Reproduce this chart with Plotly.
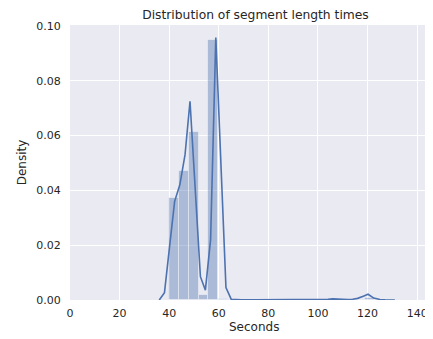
import plotly.graph_objects as go

# Histogram (density) bins
bin_centers = [41.975, 45.925, 49.875, 53.825, 57.775, 61.725, 120.975]
bin_density = [0.0373, 0.0470, 0.0612, 0.0019, 0.0948, 0.0005, 0.0006]
bin_width = 3.95

# KDE curve
kde_x = [36.0, 38.1, 40.1, 42.2, 44.3, 46.4, 48.4, 50.5, 52.6, 54.6, 56.7, 58.8,
         60.8, 62.9, 65.0, 67.1, 69.1, 75.0, 85.0, 95.0, 100.0, 104.0, 106.0,
         108.0, 110.0, 112.0, 114.0, 116.0, 118.3, 120.2, 122.5, 125.0, 127.0, 131.0]
kde_y = [0.0, 0.0027, 0.019, 0.036, 0.042, 0.053, 0.0725, 0.040, 0.0085, 0.0036,
         0.022, 0.0957, 0.050, 0.0045, 0.0003, 0.0001, 0.0001, 0.0001, 0.0001, 0.0002,
         0.0003, 0.0003, 0.0004, 0.0003, 0.0002, 0.0002, 0.0003, 0.0006, 0.0014, 0.0021,
         0.0007, 0.0002, 0.0001, 0.0]

x_ticks = [0, 20, 40, 60, 80, 100, 120, 140]
y_ticks = [0.00, 0.02, 0.04, 0.06, 0.08, 0.10]

blue = "#4C72B0"
txt = "#262626"
font = "DejaVu Sans"

fig = go.Figure()
fig.add_trace(go.Bar(
    x=bin_centers, y=bin_density, width=[bin_width] * len(bin_centers),
    marker=dict(color="rgba(76,114,176,0.4)", line=dict(color="rgba(255,255,255,0.4)", width=1)),
    hoverinfo="skip", showlegend=False,
))
fig.add_trace(go.Scatter(
    x=kde_x, y=kde_y, mode="lines", line=dict(color=blue, width=1.6),
    hoverinfo="skip", showlegend=False,
))

H = 323
fig.update_layout(
    width=425, height=H,
    margin=dict(l=62, r=0, t=17, b=31),
    paper_bgcolor="white", plot_bgcolor="#EAEAF2",
    bargap=0,
    font=dict(family=font, color=txt, size=11),
    title=dict(text="Distribution of segment length times", x=0.511, xref="paper",
               xanchor="center", y=1 - 6.5 / H, yanchor="middle",
               font=dict(size=12.3, color=txt, family=font)),
)
fig.add_annotation(
    text="Seconds", xref="paper", yref="paper", x=0.508, y=-27 / 275,
    xanchor="center", yanchor="middle", showarrow=False,
    font=dict(size=12, color=txt, family=font),
)
fig.update_xaxes(
    range=[0, 146.4], tickvals=x_ticks, ticktext=[str(v) for v in x_ticks],
    showgrid=True, gridcolor="white", gridwidth=1.2, zeroline=False, showline=False,
    ticks="outside", ticklen=3, tickcolor="rgba(0,0,0,0)", tickfont=dict(size=11, color=txt),
    automargin=False,
)
fig.update_yaxes(
    range=[0, 0.1003], tickvals=y_ticks, ticktext=[f"{v:.2f}" for v in y_ticks],
    showgrid=True, gridcolor="white", gridwidth=1.2, zeroline=False, showline=False,
    ticks="outside", ticklen=6, tickcolor="rgba(0,0,0,0)", tickfont=dict(size=11, color=txt),
    title=dict(text="Density", font=dict(size=12, color=txt), standoff=7),
    automargin=False,
)

fig.write_html("out.html", config={"displayModeBar": False})
